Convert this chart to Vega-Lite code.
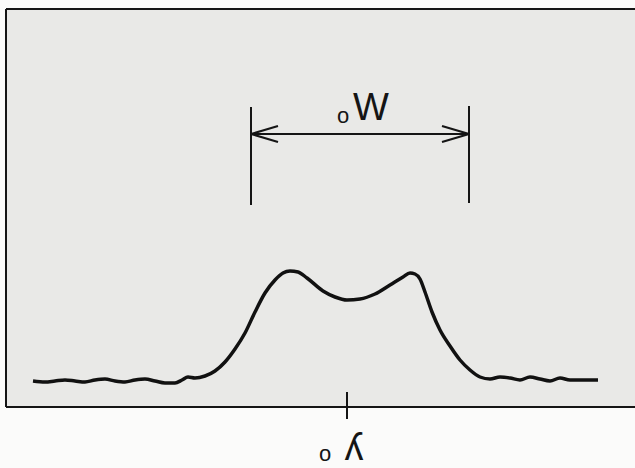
{
  "$schema": "https://vega.github.io/schema/vega-lite/v6.json",
  "width": 629,
  "height": 398,
  "autosize": "none",
  "padding": {"left": 6, "top": 9, "right": 0, "bottom": 61},
  "background": "#fbfbfa",
  "view": {"fill": "#e9e9e7", "stroke": null},
  "datasets": {
    "profile": [
      {"x": 33, "v": 26}, {"x": 45, "v": 25}, {"x": 55, "v": 26}, {"x": 65, "v": 27},
      {"x": 75, "v": 26}, {"x": 85, "v": 25}, {"x": 95, "v": 27}, {"x": 105, "v": 28},
      {"x": 115, "v": 26}, {"x": 125, "v": 25}, {"x": 135, "v": 27}, {"x": 145, "v": 28},
      {"x": 155, "v": 26}, {"x": 165, "v": 24}, {"x": 175, "v": 24}, {"x": 182, "v": 27},
      {"x": 188, "v": 30}, {"x": 195, "v": 29}, {"x": 205, "v": 31}, {"x": 215, "v": 36},
      {"x": 225, "v": 45}, {"x": 235, "v": 58}, {"x": 245, "v": 74}, {"x": 255, "v": 95},
      {"x": 265, "v": 114}, {"x": 275, "v": 127}, {"x": 283, "v": 134}, {"x": 290, "v": 136},
      {"x": 298, "v": 135}, {"x": 307, "v": 129}, {"x": 323, "v": 116}, {"x": 335, "v": 110},
      {"x": 347, "v": 107}, {"x": 360, "v": 108}, {"x": 375, "v": 113}, {"x": 390, "v": 122},
      {"x": 403, "v": 130}, {"x": 410, "v": 134}, {"x": 415, "v": 133}, {"x": 420, "v": 128},
      {"x": 425, "v": 115}, {"x": 432, "v": 95}, {"x": 440, "v": 77}, {"x": 450, "v": 61},
      {"x": 460, "v": 47}, {"x": 470, "v": 37}, {"x": 480, "v": 30}, {"x": 490, "v": 28},
      {"x": 500, "v": 30}, {"x": 510, "v": 29}, {"x": 520, "v": 27}, {"x": 530, "v": 30},
      {"x": 540, "v": 28}, {"x": 550, "v": 26}, {"x": 560, "v": 29}, {"x": 570, "v": 27},
      {"x": 580, "v": 27}, {"x": 598, "v": 27}
    ],
    "segments": [
      {"x": 6, "v": 0, "x2": 6, "v2": 398},
      {"x": 6, "v": 398, "x2": 640, "v2": 398},
      {"x": 6, "v": 0, "x2": 640, "v2": 0},
      {"x": 251, "v": 300, "x2": 251, "v2": 202},
      {"x": 469, "v": 301, "x2": 469, "v2": 204},
      {"x": 251, "v": 273, "x2": 469, "v2": 273},
      {"x": 251, "v": 273, "x2": 278, "v2": 281},
      {"x": 251, "v": 273, "x2": 278, "v2": 265},
      {"x": 469, "v": 273, "x2": 442, "v2": 281},
      {"x": 469, "v": 273, "x2": 442, "v2": 265},
      {"x": 347, "v": 15, "x2": 347, "v2": -12}
    ],
    "big": [
      {"x": 371, "v": 287, "t": "W"},
      {"x": 354, "v": -53, "t": "ʎ"}
    ],
    "small": [
      {"x": 343, "v": 284, "t": "o"},
      {"x": 325, "v": -54, "t": "o"}
    ]
  },
  "layer": [
    {
      "data": {"name": "profile"},
      "mark": {"type": "line", "color": "#111111", "strokeWidth": 3.5, "interpolate": "monotone", "clip": false},
      "encoding": {
        "x": {"field": "x", "type": "quantitative", "axis": null, "scale": {"domain": [6, 635], "nice": false, "zero": false}},
        "y": {"field": "v", "type": "quantitative", "axis": null, "scale": {"domain": [0, 398], "nice": false, "zero": false}}
      }
    },
    {
      "data": {"name": "segments"},
      "mark": {"type": "rule", "color": "#151515", "strokeWidth": 2, "clip": false},
      "encoding": {
        "x": {"field": "x", "type": "quantitative", "axis": null, "scale": {"domain": [6, 635], "nice": false, "zero": false}},
        "y": {"field": "v", "type": "quantitative", "axis": null, "scale": {"domain": [0, 398], "nice": false, "zero": false}},
        "x2": {"field": "x2"},
        "y2": {"field": "v2"}
      }
    },
    {
      "data": {"name": "big"},
      "mark": {"type": "text", "font": "Liberation Sans", "fontSize": 38, "color": "#151515", "align": "center", "baseline": "alphabetic", "clip": false},
      "encoding": {
        "x": {"field": "x", "type": "quantitative", "axis": null, "scale": {"domain": [6, 635], "nice": false, "zero": false}},
        "y": {"field": "v", "type": "quantitative", "axis": null, "scale": {"domain": [0, 398], "nice": false, "zero": false}},
        "text": {"field": "t"}
      }
    },
    {
      "data": {"name": "small"},
      "mark": {"type": "text", "font": "Liberation Sans", "fontSize": 22, "color": "#151515", "align": "center", "baseline": "alphabetic", "clip": false},
      "encoding": {
        "x": {"field": "x", "type": "quantitative", "axis": null, "scale": {"domain": [6, 635], "nice": false, "zero": false}},
        "y": {"field": "v", "type": "quantitative", "axis": null, "scale": {"domain": [0, 398], "nice": false, "zero": false}},
        "text": {"field": "t"}
      }
    }
  ]
}
